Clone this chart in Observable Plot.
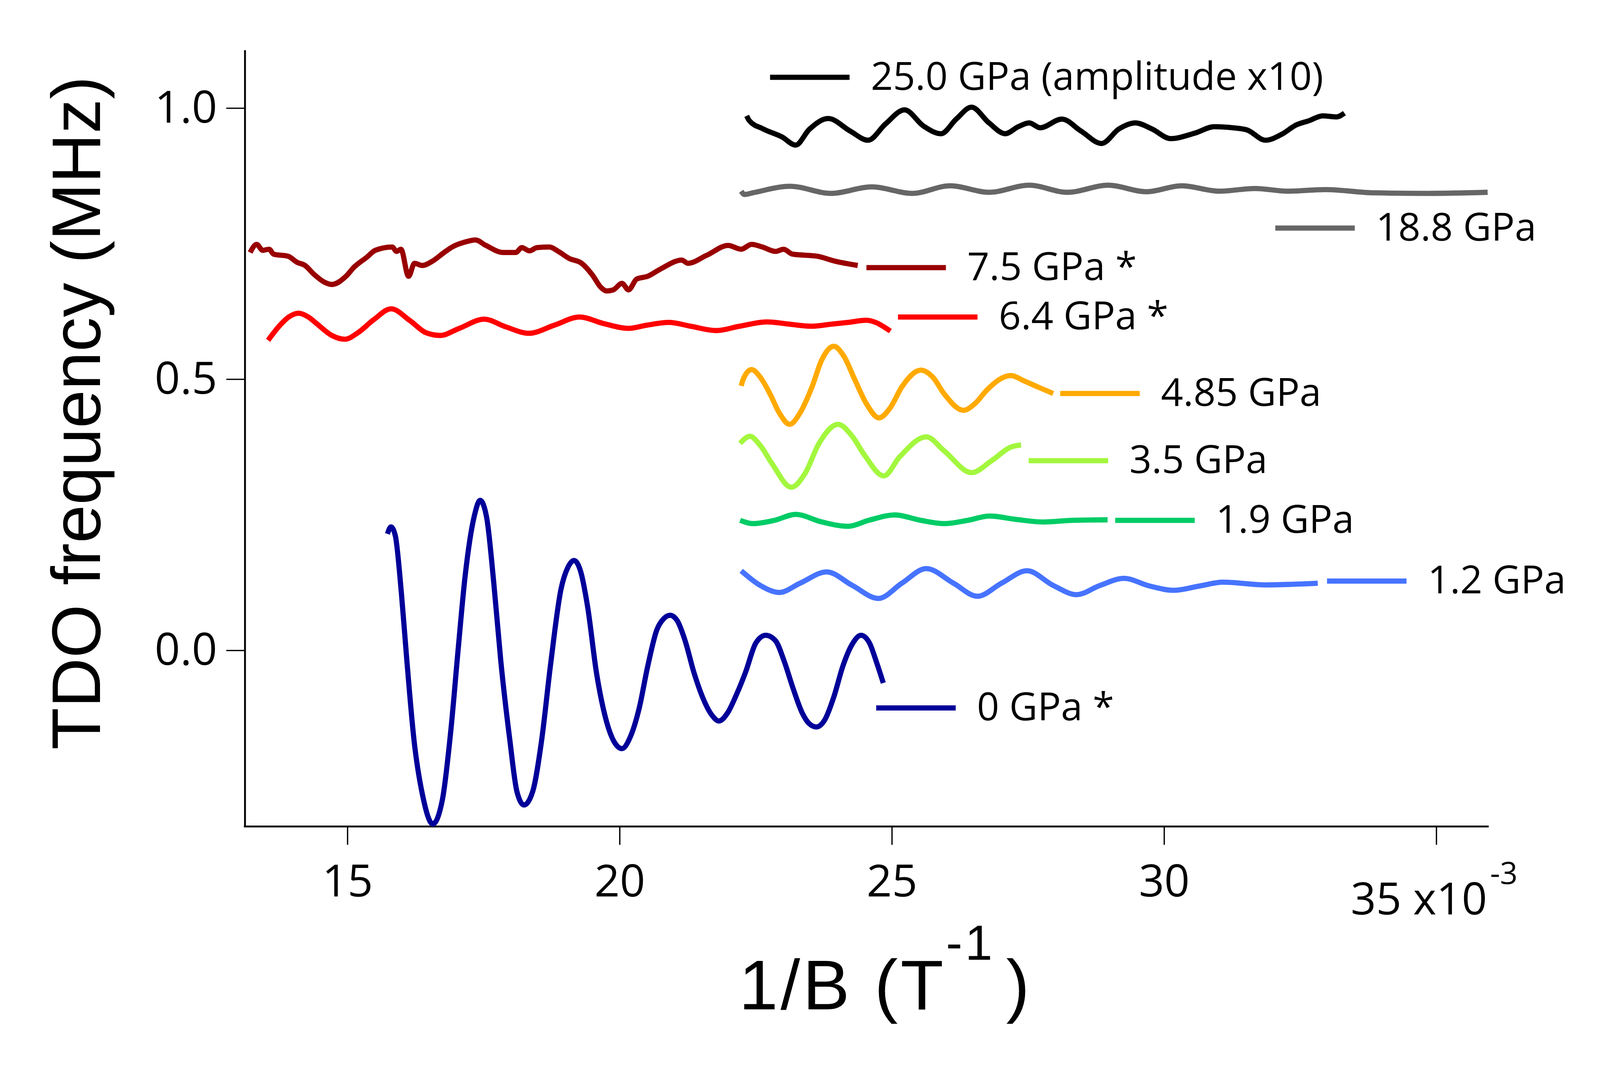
<!DOCTYPE html>
<html>
<head>
<meta charset="utf-8">
<script src="https://cdn.jsdelivr.net/npm/d3@7"></script>
<script src="https://cdn.jsdelivr.net/npm/@observablehq/plot@0.6"></script>
<style>
  html, body { margin: 0; padding: 0; background: #fff; overflow: hidden; }
  svg { display: block; }
</style>
</head>
<body>
<div id="chart"></div>
<script>
// ---------- data (x in 1e-3 T^-1, y in MHz) ----------
const seriesNames = ["0 GPa *", "1.2 GPa", "1.9 GPa", "3.5 GPa", "4.85 GPa", "6.4 GPa *", "7.5 GPa *", "18.8 GPa", "25.0 GPa (amplitude x10)"];

const gpa0 = [[15.733,0.215],[15.797,0.228],[15.876,0.212],[15.99,0.104],[16.09,-0.020],[16.22,-0.165],[16.38,-0.268],[16.565,-0.320],[16.74,-0.276],[16.90,-0.144],[17.03,0.001],[17.16,0.138],[17.33,0.249],[17.435,0.277],[17.555,0.245],[17.685,0.125],[17.815,-0.020],[17.98,-0.165],[18.11,-0.260],[18.24,-0.285],[18.40,-0.260],[18.565,-0.165],[18.726,-0.028],[18.92,0.113],[19.05,0.154],[19.16,0.166],[19.28,0.146],[19.41,0.080],[19.57,-0.040],[19.735,-0.123],[19.90,-0.169],[20.04,-0.181],[20.19,-0.160],[20.355,-0.107],[20.515,-0.028],[20.68,0.038],[20.81,0.059],[20.925,0.065],[21.055,0.055],[21.20,0.018],[21.36,-0.040],[21.52,-0.086],[21.69,-0.119],[21.82,-0.130],[21.98,-0.115],[22.14,-0.082],[22.31,-0.040],[22.50,0.014],[22.68,0.028],[22.86,0.018],[23.02,-0.020],[23.18,-0.069],[23.35,-0.115],[23.48,-0.135],[23.61,-0.141],[23.77,-0.127],[23.93,-0.086],[24.10,-0.028],[24.26,0.010],[24.43,0.028],[24.585,0.014],[24.71,-0.020],[24.84,-0.060]];

const gpa1_2 = [[22.23,0.147],[22.58,0.120],[22.93,0.107],[23.31,0.124],[23.80,0.145],[24.27,0.120],[24.75,0.096],[25.18,0.124],[25.63,0.151],[26.13,0.124],[26.57,0.100],[27.01,0.124],[27.48,0.147],[27.96,0.120],[28.39,0.103],[28.82,0.120],[29.26,0.133],[29.73,0.119],[30.17,0.111],[30.65,0.119],[31.08,0.126],[31.86,0.121],[32.82,0.124]];

const gpa1_9 = [[22.21,0.240],[22.45,0.234],[22.84,0.240],[23.23,0.251],[23.71,0.237],[24.19,0.229],[24.57,0.240],[25.05,0.250],[25.53,0.240],[25.96,0.234],[26.39,0.240],[26.79,0.248],[27.26,0.242],[27.78,0.237],[28.30,0.240],[28.96,0.241]];

const gpa3_5 = [[22.21,0.382],[22.39,0.395],[22.58,0.378],[22.80,0.344],[23.15,0.301],[23.40,0.326],[23.66,0.382],[24.01,0.417],[24.27,0.395],[24.49,0.361],[24.85,0.322],[25.14,0.357],[25.63,0.394],[25.96,0.368],[26.46,0.328],[26.83,0.350],[27.18,0.375],[27.37,0.379]];

const gpa4_85 = [[22.23,0.488],[22.27,0.501],[22.42,0.518],[22.58,0.504],[22.76,0.473],[22.93,0.438],[23.12,0.417],[23.31,0.438],[23.53,0.486],[23.71,0.536],[23.93,0.561],[24.12,0.542],[24.31,0.501],[24.53,0.455],[24.76,0.429],[24.97,0.448],[25.18,0.486],[25.53,0.517],[25.75,0.504],[25.96,0.473],[26.31,0.443],[26.52,0.455],[26.74,0.480],[26.96,0.499],[27.18,0.507],[27.43,0.497],[27.70,0.485],[27.96,0.474]];

const gpa6_4 = [[13.54,0.572],[13.76,0.600],[13.92,0.615],[14.10,0.622],[14.28,0.615],[14.43,0.603],[14.71,0.581],[14.95,0.574],[15.19,0.586],[15.48,0.610],[15.80,0.630],[16.15,0.608],[16.44,0.586],[16.70,0.581],[17.05,0.594],[17.51,0.611],[17.90,0.597],[18.33,0.585],[18.80,0.600],[19.26,0.615],[19.70,0.603],[20.16,0.594],[20.50,0.600],[20.90,0.605],[21.30,0.598],[21.77,0.590],[22.20,0.598],[22.70,0.606],[23.10,0.602],[23.52,0.598],[23.90,0.602],[24.19,0.605],[24.53,0.609],[24.70,0.605],[24.88,0.595],[24.97,0.589]];

const gpa7_5 = [[13.21,0.734],[13.33,0.749],[13.44,0.738],[13.56,0.740],[13.64,0.731],[13.91,0.727],[14.07,0.716],[14.22,0.710],[14.38,0.694],[14.58,0.679],[14.71,0.675],[14.97,0.690],[15.12,0.707],[15.35,0.725],[15.51,0.738],[15.82,0.744],[15.90,0.736],[15.98,0.740],[16.12,0.690],[16.23,0.714],[16.37,0.710],[16.56,0.718],[16.76,0.733],[16.92,0.744],[17.15,0.753],[17.35,0.757],[17.54,0.747],[17.86,0.734],[18.09,0.734],[18.20,0.743],[18.34,0.737],[18.48,0.743],[18.71,0.744],[18.87,0.736],[19.07,0.723],[19.30,0.714],[19.50,0.692],[19.65,0.670],[19.76,0.663],[19.88,0.665],[20.04,0.677],[20.16,0.665],[20.31,0.685],[20.51,0.690],[20.74,0.703],[21.14,0.720],[21.25,0.714],[21.60,0.729],[21.99,0.747],[22.23,0.740],[22.42,0.749],[22.62,0.744],[22.86,0.736],[23.01,0.740],[23.17,0.731],[23.63,0.727],[23.95,0.718],[24.37,0.710]];

const gpa18_8 = [[22.23,0.847],[22.29,0.841],[22.44,0.844],[23.13,0.856],[23.88,0.843],[24.63,0.855],[25.37,0.843],[26.07,0.857],[26.78,0.845],[27.52,0.858],[28.22,0.845],[28.97,0.858],[29.67,0.846],[30.32,0.857],[31.01,0.847],[31.67,0.852],[32.27,0.847],[32.96,0.850],[33.86,0.844],[34.85,0.843],[35.94,0.845]];

const gpa25_0 = [[22.33,0.986],[22.38,0.977],[22.63,0.962],[22.98,0.947],[23.23,0.932],[23.48,0.961],[23.83,0.981],[24.23,0.958],[24.56,0.941],[24.88,0.971],[25.23,0.997],[25.58,0.967],[25.90,0.953],[26.18,0.980],[26.46,1.002],[26.78,0.973],[27.08,0.953],[27.32,0.966],[27.52,0.973],[27.72,0.964],[28.12,0.980],[28.47,0.958],[28.85,0.935],[29.17,0.962],[29.47,0.973],[29.77,0.962],[30.12,0.944],[30.56,0.954],[30.92,0.966],[31.26,0.964],[31.52,0.960],[31.86,0.941],[32.16,0.952],[32.42,0.969],[32.66,0.977],[32.91,0.986],[33.16,0.984],[33.31,0.991]];

const seriesValues = [gpa0, gpa1_2, gpa1_9, gpa3_5, gpa4_85, gpa6_4, gpa7_5, gpa18_8, gpa25_0];

const xTicks = [15, 20, 25, 30, 35];
const yTicks = [0.0, 0.5, 1.0];
const xDomain = [13.116, 35.946];
const yDomain = [-0.3245, 1.105];

// ---------- styles ----------
const seriesColors = ["#000099", "#4673FF", "#00CC66", "#A3F73E", "#FFAA00", "#FF0000", "#990000", "#666666", "#000000"];

// legend annotation layout (data units): segment x1, y; common segment length and label gap
const legendX1 = [24.71, 32.99, 29.10, 27.51, 28.09, 25.11, 24.53, 32.04, 22.76];
const legendY  = [-0.106, 0.128, 0.240, 0.350, 0.474, 0.615, 0.706, 0.779, 1.057];
const legendLen = 1.46;
const labelGap = 0.39;

// ---------- build tables ----------
const rows = seriesNames.flatMap((name, i) => seriesValues[i].map(([x, y]) => ({series: name, x, y})));
const legend = seriesNames.map((name, i) => ({
  series: name,
  x1: legendX1[i],
  x2: legendX1[i] + legendLen,
  y: legendY[i],
  tx: legendX1[i] + legendLen + labelGap
}));

const W = 4320, H = 2770;
const plot = Plot.plot({
  width: W, height: H,
  marginLeft: 661, marginRight: 303, marginTop: 138, marginBottom: 539,
  x: {domain: xDomain},
  y: {domain: yDomain},
  color: {domain: seriesNames, range: seriesColors},
  style: {fontFamily: "'Open Sans', sans-serif", background: "white", overflow: "visible"},
  marks: [
    Plot.axisX({ticks: xTicks, tickFormat: d => d === 35 ? "" : String(d), tickSize: 50, tickPadding: 54, fontSize: 120, strokeWidth: 3.5, label: null}),
    Plot.axisY({ticks: yTicks, tickFormat: d3.format(".1f"), tickSize: 50, tickPadding: 25, fontSize: 120, strokeWidth: 3.5, label: null}),
    Plot.ruleX([xDomain[0]], {strokeWidth: 5, strokeLinecap: "square"}),
    Plot.ruleY([yDomain[0]], {strokeWidth: 5, strokeLinecap: "square"}),
    Plot.line(rows, {x: "x", y: "y", z: "series", stroke: "series", strokeWidth: 14, curve: "monotone-x", strokeLinecap: "butt", strokeLinejoin: "round"}),
    Plot.link(legend, {x1: "x1", x2: "x2", y1: "y", y2: "y", stroke: "series", strokeWidth: 14, strokeLinecap: "butt"}),
    Plot.text(legend, {x: "tx", y: "y", text: "series", textAnchor: "start", fontSize: 105, fill: "black"})
  ]
});

document.getElementById("chart").appendChild(plot);

// ---------- titles and special tick label ----------
const svg = d3.select(plot);
const xs = plot.scale("x");

const x35 = xs.apply(35);
const t35 = svg.append("text")
  .attr("x", x35 - 231).attr("y", 2469)
  .attr("text-anchor", "start")
  .attr("font-family", "'Open Sans', sans-serif").attr("font-size", 120).attr("fill", "black");
t35.append("tspan").text("35 x10");
t35.append("tspan").attr("font-size", 83).attr("dx", 8).attr("dy", -82).text("-3");

const xt = svg.append("text")
  .attr("x", 1995).attr("y", 2725)
  .attr("text-anchor", "start")
  .attr("font-family", "'Liberation Sans', Arial, sans-serif").attr("font-size", 190)
  .attr("letter-spacing", 7).attr("fill", "black");
xt.append("tspan").text("1/B (T");
xt.append("tspan").attr("font-size", 133).attr("dy", -134).text("-1");
xt.append("tspan").attr("dy", 134).attr("dx", 30).text(")");

svg.append("text")
  .attr("transform", "translate(270,1115) rotate(-90)")
  .attr("text-anchor", "middle")
  .attr("font-family", "'Liberation Sans', Arial, sans-serif").attr("font-size", 186)
  .attr("fill", "black")
  .text("TDO frequency (MHz)");
</script>
</body>
</html>
